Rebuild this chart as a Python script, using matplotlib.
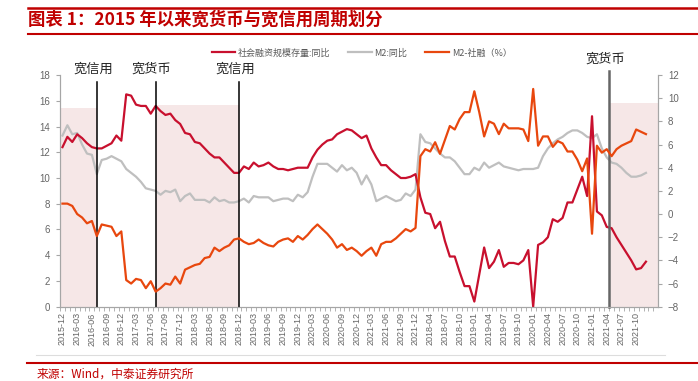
import matplotlib
matplotlib.use("Agg")
import matplotlib.pyplot as plt
from matplotlib.lines import Line2D

plt.rcParams['font.family'] = ['Noto Sans CJK SC', 'DejaVu Sans']

# 社会融资规模存量:同比 (左轴)
shrz = [12.4, 13.2, 12.8, 13.4, 13.1, 12.7, 12.4, 12.3, 12.3, 12.5,
        12.7, 13.3, 12.9, 16.5, 16.4, 15.7, 15.6, 15.6, 15.0, 15.6,
        15.2, 14.9, 15.0, 14.5, 14.2, 13.5, 13.4, 12.8, 12.7, 12.3,
        11.9, 11.6, 11.6, 11.2, 10.8, 10.4, 10.4, 10.9, 10.7, 11.2,
        10.9, 11.0, 11.2, 10.9, 10.7, 10.7, 10.6, 10.7, 10.8, 10.8,
        10.8, 11.6, 12.2, 12.6, 12.9, 13.0, 13.4, 13.6, 13.8, 13.7,
        13.4, 13.1, 13.3, 12.3, 11.6, 11.0, 11.0, 10.6, 10.3, 10.0,
        10.0, 10.1, 10.3, 8.5, 7.3, 7.2, 6.1, 6.6, 5.1, 3.9,
        3.9, 2.7, 1.6, 1.6, 0.4, 2.5, 4.6, 3.0, 3.5, 4.4,
        3.1, 3.4, 3.4, 3.3, 3.6, 4.4, 0.0, 4.8, 5.0, 5.4,
        6.8, 6.6, 6.9, 8.1, 8.1, 9.1, 10.1, 8.6, 14.8, 7.4,
        7.1, 6.2, 6.1, 5.4, 4.8, 4.2, 3.6, 2.9, 3.0, 3.5]

# M2:同比 (左轴)
m2 = [13.3, 14.1, 13.4, 13.5, 12.6, 11.9, 11.8, 10.3, 11.4, 11.5,
      11.7, 11.5, 11.3, 10.7, 10.4, 10.1, 9.7, 9.2, 9.1, 9.0,
      8.7, 9.0, 8.9, 9.1, 8.2, 8.6, 8.8, 8.3, 8.3, 8.3,
      8.1, 8.5, 8.2, 8.3, 8.1, 8.1, 8.2, 8.4, 8.1, 8.6,
      8.5, 8.5, 8.5, 8.2, 8.3, 8.4, 8.4, 8.2, 8.7, 8.5,
      8.9, 10.1, 11.1, 11.1, 11.1, 10.8, 10.5, 11.0, 10.6, 10.8,
      10.4, 9.5, 10.2, 9.5, 8.2, 8.4, 8.6, 8.4, 8.2, 8.3,
      8.8, 8.6, 9.1, 13.4, 12.8, 12.7, 12.3, 11.9, 11.6, 11.6,
      11.3, 10.8, 10.3, 10.3, 10.8, 10.6, 11.2, 10.8, 11.0, 11.2,
      10.9, 10.8, 10.7, 10.6, 10.7, 10.7, 10.7, 10.8, 11.7, 12.3,
      12.7, 13.0, 13.2, 13.5, 13.7, 13.7, 13.5, 13.2, 13.1, 13.4,
      12.3, 11.6, 11.2, 11.1, 10.8, 10.4, 10.1, 10.1, 10.2, 10.4]

# M2-社融 (%) (右轴)
m2_shrz = [0.9, 0.9, 0.7, 0.0, -0.3, -0.8, -0.6, -1.9, -0.9, -1.0,
           -1.1, -1.9, -1.5, -5.7, -6.0, -5.6, -5.7, -6.4, -5.8, -6.7,
           -6.4, -6.0, -6.1, -5.4, -6.0, -4.8, -4.6, -4.4, -4.3, -3.8,
           -3.7, -2.9, -3.2, -2.9, -2.7, -2.2, -2.1, -2.4, -2.6, -2.5,
           -2.2, -2.5, -2.7, -2.8, -2.4, -2.2, -2.1, -2.4, -1.9, -2.2,
           -1.8, -1.3, -0.9, -1.3, -1.7, -2.2, -2.9, -2.6, -3.1, -2.9,
           -3.2, -3.6, -3.2, -2.9, -3.6, -2.6, -2.4, -2.4, -2.1, -1.7,
           -1.3, -1.5, -1.2, 5.0, 5.6, 5.4, 6.2, 5.2, 6.4, 7.6,
           7.3, 8.2, 8.8, 8.8, 10.6, 8.8, 6.7, 8.0, 7.8, 6.9,
           7.8, 7.4, 7.4, 7.4, 7.3, 6.3, 10.8, 5.9, 6.7, 6.7,
           5.8, 6.3, 6.1, 5.4, 5.4, 4.7, 3.7, 4.8, -1.7, 5.9,
           5.3, 5.6, 5.0, 5.6, 5.9, 6.1, 6.3, 7.3, 7.1, 6.9]

xlabels = ["2015-12", "2016-03", "2016-06", "2016-09", "2016-12", "2017-03", "2017-06",
           "2017-09", "2017-12", "2018-03", "2018-06", "2018-09", "2018-12", "2019-03",
           "2019-06", "2019-09", "2019-12", "2020-03", "2020-06", "2020-09", "2020-12",
           "2021-03", "2021-06", "2021-09", "2021-12", "2018-04", "2018-07", "2018-10",
           "2019-01", "2019-04", "2019-07", "2019-10", "2020-01", "2020-04", "2020-07",
           "2020-10", "2021-01", "2021-04", "2021-07", "2021-10"]

# 周期分界 (类目序号) 与标注
cuts = [7, 19, 36, 111.5]
cut_names = ["宽信用", "宽货币", "宽信用", "宽货币"]
# 阴影区间: (起, 止, 高度)
shades = [(-0.5, 7, 15.45), (19, 36, 15.65), (111.5, 121.5, 15.8)]

x = list(range(len(shrz)))
gray = '#595959'

fig = plt.figure(figsize=(6.98, 3.81), dpi=100)
ax = fig.add_axes([0.086, 0.195, 0.857, 0.608])
ax2 = ax.twinx()

for a, b, h in shades:
    ax.fill_between([a, b], 0, h, color='#F6E7E7', lw=0, zorder=0)

l1, = ax.plot(x, shrz, color='#C8102E', lw=1.6, zorder=3)
l2, = ax.plot(x, m2, color='#BFBFBF', lw=1.6, zorder=2)
l3, = ax2.plot(x, m2_shrz, color='#E8470E', lw=1.6, zorder=3)

for k, c in enumerate(cuts):
    if k < 3:
        ax.plot([c, c], [0, 17.45], color='black', lw=1.1, zorder=4)
        ax.text(c - 0.8, 18.45, cut_names[k], ha='center', va='center', fontsize=9.5, color='#222222')
    else:
        ax.plot([c, c], [0, 18.3], color='#666666', lw=1.8, zorder=4, clip_on=False)
        ax.text(c - 0.8, 19.25, cut_names[k], ha='center', va='center', fontsize=9.5, color='#222222')

ax.set_xlim(-0.5, 121.5)
ax.set_ylim(0, 18)
ax2.set_ylim(-8, 12)
ax.set_yticks(range(0, 19, 2))
ax2.set_yticks(range(-8, 13, 2))
ax.set_xticks(range(0, 3 * len(xlabels), 3))
ax.set_xticklabels(xlabels, rotation=90, family='Liberation Sans')
ax.set_xticks([i - 0.5 for i in range(122)], minor=True)

for a in (ax, ax2):
    for s in a.spines.values():
        s.set_color('#A6A6A6')
        s.set_linewidth(0.8)
    a.spines['top'].set_visible(False)
ax.tick_params(axis='x', which='major', length=0, pad=4, labelsize=6.5, labelcolor='#666666')
ax.tick_params(axis='x', which='minor', length=3, color='#A6A6A6')
ax.tick_params(axis='y', length=3, color='#A6A6A6', pad=4, labelsize=7, labelcolor='#666666')
ax2.tick_params(axis='y', length=3, color='#A6A6A6', pad=4, labelsize=7, labelcolor='#666666')
for t in ax.get_yticklabels() + ax2.get_yticklabels():
    t.set_family('Liberation Sans')

fig.legend([l1, l2, l3], ["社会融资规模存量:同比", "M2:同比", "M2-社融（%）"],
           loc='center', bbox_to_anchor=(0.518, 0.861), ncol=3, frameon=False,
           fontsize=6.5, handlelength=2.6, handletextpad=0.3, columnspacing=2.0,
           labelcolor=gray)

# 标题与来源
fig.text(0.04, 0.9475, "图表 1：2015 年以来宽货币与宽信用周期划分", color='#C00000',
         fontsize=12.5, fontweight='bold', va='center', ha='left')
fig.add_artist(Line2D([0.04, 1.0], [0.980, 0.980], color='#C00000', lw=1.8))
fig.add_artist(Line2D([0.04, 1.0], [0.912, 0.912], color='#C00000', lw=1.5))
fig.add_artist(Line2D([0.052, 0.953], [0.068, 0.068], color='#DDDDDD', lw=0.8))
fig.add_artist(Line2D([0.039, 1.0], [0.047, 0.047], color='#C00000', lw=1.5))
fig.text(0.053, 0.018, "来源：Wind，中泰证券研究所", color='#C00000', fontsize=8.5,
         va='center', ha='left')

fig.savefig("out.png", dpi=100)
